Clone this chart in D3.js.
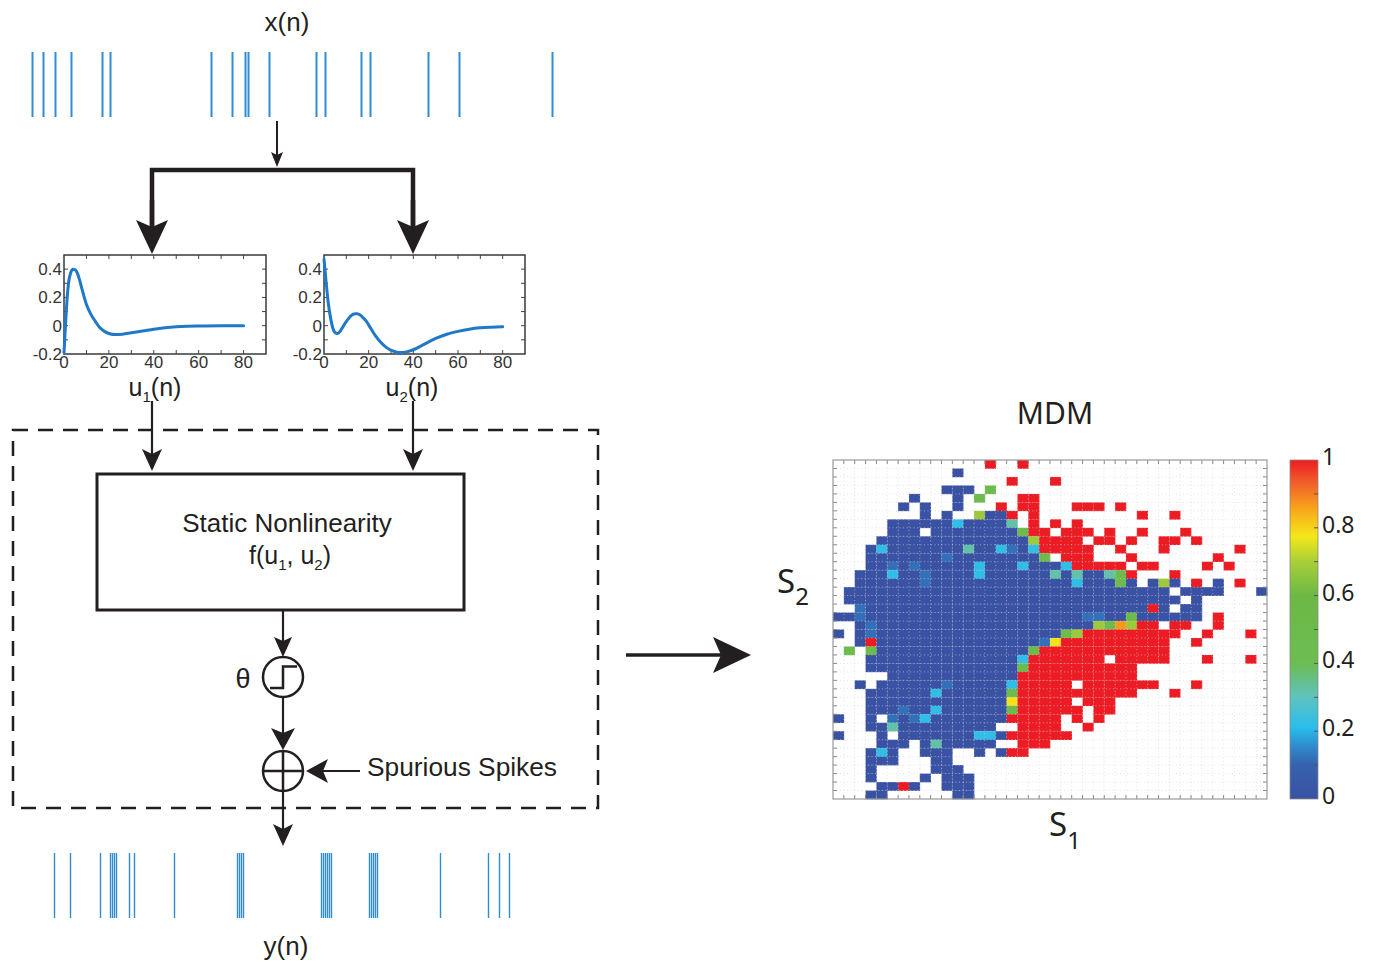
<!DOCTYPE html>
<html><head><meta charset="utf-8">
<script src="https://cdn.jsdelivr.net/npm/d3@7"></script>
<style>body{margin:0;background:#fff}svg{display:block}</style>
</head><body>
<svg id="chart" width="1373" height="964"></svg>
<script>
// ---- data ----
// spike times (sample index) of the input train x(n) and output train y(n)
const inputSpikes = [12, 23, 35, 51, 82, 90, 191, 212, 225, 228, 249, 296, 305, 341, 350, 408, 439, 532];
const outputSpikes = [34, 50, 80, 90, 92, 94, 96, 109, 114, 154, 217, 219, 221, 223,
  301, 303, 305, 307, 309, 311, 349, 351, 353, 355, 357, 420, 468, 479, 489];

// principal dynamic modes (kernel value vs lag)
const u1Lag = [0, 1, 2, 3, 4, 5, 6, 7, 8, 10, 12, 14, 16, 18, 20, 23, 26, 30, 35, 40, 45, 50, 55, 60, 70, 80];
const u1Val = [-0.19, 0.1, 0.3, 0.375, 0.4, 0.395, 0.37, 0.32, 0.26, 0.15, 0.08, 0.03, -0.015, -0.04, -0.055, -0.063, -0.06, -0.05, -0.038, -0.025, -0.015, -0.008, -0.004, -0.002, 0, 0];
const u2Lag = [0, 1, 2, 3, 4, 5, 6, 7, 8, 10, 12, 14, 15, 17, 19, 21, 23, 25, 28, 31, 34, 37, 40, 45, 50, 55, 60, 65, 70, 75, 80];
const u2Val = [0.47, 0.3, 0.15, 0.05, -0.02, -0.05, -0.055, -0.045, -0.02, 0.03, 0.07, 0.085, 0.085, 0.065, 0.03, -0.02, -0.07, -0.11, -0.155, -0.18, -0.19, -0.185, -0.17, -0.13, -0.09, -0.06, -0.04, -0.025, -0.015, -0.01, -0.007];
const kernelXTicks = [0, 20, 40, 60, 80];
const kernelYTicks = [-0.2, 0, 0.2, 0.4];

// MDM heat map: 40 x 40 bins, one string per row (top row first).
// tokens "col" or "from-to" followed by a level code; empty bins are omitted
const mdmLevels = {b: 0.0, m: 0.12, c: 0.22, t: 0.32, g: 0.5, y: 0.68, Y: 0.78, o: 0.87, r: 1.0};
const mdmRows = [
  "14r 17r",
  "11b",
  "16r 20r",
  "10-12b 14g",
  "7b 11b 13g 17-18r",
  "6b 8b 11b 15r 17-18r 22-24r 26r",
  "8b 10b 13y 14-15b 16r 18r 28r 31r",
  "5-10b 11c 12-15b 16t 18r 20r 22r",
  "5-7b 9-16b 17g 18-19r 21-23r 25r 28r 32r",
  "4-17b 18y 19-22r 24-25r 27r 30-31r 33r",
  "3b 4c 5-11b 12t 13-14b 15c 16m 17b 18c 19-23r 26r 30r 37r",
  "3-9b 10m 11-18b 19g 21-23r 27r 35r",
  "3-4b 5m 6b 7m 8-12b 13c 14-16b 17c 18-20b 21c 22-26r 28-29r 34r 36r",
  "2-4b 5c 6-7b 8m 9-12b 13c 14-19b 20t 21b 22t 23-24b 25t 26g 27r 31r",
  "2-7b 8m 9-21b 22c 23-25b 26g 27b 29b 30y 31b 33r 35b 37r",
  "1-30b 32-35b 39b",
  "1-31b 33b",
  "2m 3-28b 29r 30b 32-33b",
  "0-1b 2m 3-22b 23-24m 25-26b 27g 28-33b 35r",
  "2b 3m 4-23b 24y 25g 26o 27y 28-29r 31-32r 35r",
  "0b 2b 3m 4-20b 21g 22y 23-31r 34r 38r",
  "2b 3r 4-18b 19m 20Y 21-30r 33r",
  "1g 3g 4-17b 18g 19-30r",
  "3-16b 17c 18-24r 26-30r 34r 38r",
  "3-16b 17g 18-27r",
  "5-16b 17-27r",
  "2b 4-9b 10m 11-15b 16c 17-21r 23-29r 33r",
  "3-8b 9c 10-15b 16g 17-27r 31r",
  "3-15b 16Y 17-21r 23-25r",
  "3-5b 6m 7-8b 9c 10-15b 16g 17-22r 24-25r",
  "0b 3b 5m 6b 7m 8c 9-15b 16-20r 22r 24r",
  "3-4b 5t 6-14b 17-20r 23r",
  "0b 4b 6-12b 13-14c 15b 16-21r",
  "4-6b 8b 9t 10-14b 17-19r",
  "3b 4c 5b 8-10b 13b 15b 16-17r",
  "3-5b 9-10b",
  "3b 9-11b",
  "3b 8b 10-12b",
  "4-5b 6r 7b 10-12b",
  "3-4b 11-12b"
];
const colorbarTicks = [0, 0.2, 0.4, 0.6, 0.8, 1];
const cmapStops = [0, 0.1, 0.15, 0.21, 0.3, 0.4, 0.6, 0.7, 0.775, 0.86, 0.93, 1];
const cmapColors = ["#3a52a3", "#3662ae", "#2f86c9", "#2abdec", "#5ec3bf", "#6cbd52", "#6cb845",
  "#a8cf38", "#f4e71a", "#f8a21b", "#f1612a", "#ec1c24"];

// ---- drawing ----
const svg = d3.select("#chart");
const ink = "#231f20";
const sans = "'Liberation Sans', Arial, Helvetica, sans-serif";
const humanist = "'Noto Sans', 'Open Sans', sans-serif";
const spikeBlue = "#2f8cd3";

// spike trains
const tScale = d3.scaleLinear().domain([0, 550]).range([20, 570]);
function spikeTrain(times, y0, y1, w) {
  svg.append("g").selectAll("line").data(times).join("line")
    .attr("x1", d => tScale(d) + 0.5).attr("x2", d => tScale(d) + 0.5)
    .attr("y1", y0).attr("y2", y1)
    .attr("stroke", spikeBlue).attr("stroke-width", w);
}
spikeTrain(inputSpikes, 52, 117, 2);
spikeTrain(outputSpikes, 853, 918, 1.4);

svg.append("text").attr("x", 287).attr("y", 31).attr("text-anchor", "middle")
  .attr("font-family", sans).attr("font-size", 26).attr("fill", ink).text("x(n)");
svg.append("text").attr("x", 286).attr("y", 955).attr("text-anchor", "middle")
  .attr("font-family", sans).attr("font-size", 26).attr("fill", ink).text("y(n)");

// arrows: shaft plus notched head
function arrow(x1, y1, x2, y2, opt) {
  const o = Object.assign({w: 2.2, len: 22, half: 10, notch: 5}, opt || {});
  const dx = x2 - x1, dy = y2 - y1, L = Math.hypot(dx, dy);
  const ux = dx / L, uy = dy / L, px = -uy, py = ux;
  const bx = x2 - ux * o.len, by = y2 - uy * o.len;
  const nx = x2 - ux * (o.len - o.notch), ny = y2 - uy * (o.len - o.notch);
  svg.append("line").attr("x1", x1).attr("y1", y1).attr("x2", nx).attr("y2", ny)
    .attr("stroke", ink).attr("stroke-width", o.w);
  svg.append("path")
    .attr("d", `M${x2},${y2}L${bx + px * o.half},${by + py * o.half}L${nx},${ny}L${bx - px * o.half},${by - py * o.half}Z`)
    .attr("fill", ink);
}

arrow(277, 121, 277, 167, {w: 2, len: 15, half: 6, notch: 3});
svg.append("path").attr("d", "M152,232V170H413V232").attr("fill", "none")
  .attr("stroke", ink).attr("stroke-width", 4.5).attr("stroke-linejoin", "miter");
arrow(152, 200, 152, 254, {w: 4.5, len: 34, half: 16, notch: 7});
arrow(413, 200, 413, 254, {w: 4.5, len: 34, half: 16, notch: 7});

// kernel plots
const kx = d3.scaleLinear().domain([0, 90]);
const ky = d3.scaleLinear().domain([-0.2, 0.5]);
function kernelPlot(left, right, lags, vals, sub, labelX) {
  const top = 255, bottom = 354;
  const x = kx.copy().range([left, right]);
  const y = ky.copy().range([bottom, top]);
  const g = svg.append("g");
  // inward minor ticks on all four sides
  const xt = d3.range(10, 90, 10), yt = d3.range(-0.1, 0.5, 0.1);
  xt.forEach(t => {
    g.append("line").attr("x1", x(t)).attr("x2", x(t)).attr("y1", bottom).attr("y2", bottom - 4).attr("stroke", "#444");
    g.append("line").attr("x1", x(t)).attr("x2", x(t)).attr("y1", top).attr("y2", top + 4).attr("stroke", "#444");
  });
  yt.forEach(t => {
    g.append("line").attr("x1", left).attr("x2", left + 4).attr("y1", y(t)).attr("y2", y(t)).attr("stroke", "#444");
    g.append("line").attr("x1", right).attr("x2", right - 4).attr("y1", y(t)).attr("y2", y(t)).attr("stroke", "#444");
  });
  g.append("rect").attr("x", left).attr("y", top).attr("width", right - left).attr("height", bottom - top)
    .attr("fill", "none").attr("stroke", "#3a3a3a").attr("stroke-width", 1.5);
  const line = d3.line().x((d, i) => x(lags[i])).y(d => y(d)).curve(d3.curveMonotoneX);
  g.append("path").attr("d", line(vals)).attr("fill", "none")
    .attr("stroke", "#1f78c8").attr("stroke-width", 3).attr("stroke-linecap", "round");
  g.selectAll(".xl").data(kernelXTicks).join("text")
    .attr("x", d => x(d)).attr("y", 368).attr("text-anchor", "middle")
    .attr("font-family", sans).attr("font-size", 17).attr("fill", "#333").text(d => d);
  g.selectAll(".yl").data(kernelYTicks).join("text")
    .attr("x", left - 2).attr("y", d => y(d) + 6).attr("text-anchor", "end")
    .attr("font-family", sans).attr("font-size", 17).attr("fill", "#333").text(d => d);
  const lab = g.append("text").attr("x", labelX).attr("y", 396).attr("text-anchor", "middle")
    .attr("font-family", sans).attr("font-size", 25).attr("fill", ink);
  lab.append("tspan").text("u");
  lab.append("tspan").attr("font-size", 15).attr("dy", 6).text(sub);
  lab.append("tspan").attr("dy", -6).text("(n)");
}
kernelPlot(64, 266, u1Lag, u1Val, "1", 155);
kernelPlot(324, 525, u2Lag, u2Val, "2", 412);

arrow(152, 401, 152, 471, {len: 22, half: 10, notch: 5});
arrow(413, 401, 413, 471, {len: 22, half: 10, notch: 5});

// dashed frame around the nonlinear block
svg.append("rect").attr("x", 13).attr("y", 430).attr("width", 585).attr("height", 378)
  .attr("fill", "none").attr("stroke", ink).attr("stroke-width", 2.5).attr("stroke-dasharray", "15 10");

svg.append("rect").attr("x", 97).attr("y", 474).attr("width", 367).attr("height", 136)
  .attr("fill", "#fff").attr("stroke", ink).attr("stroke-width", 3);
svg.append("text").attr("x", 287).attr("y", 532).attr("text-anchor", "middle")
  .attr("font-family", sans).attr("font-size", 26).attr("fill", ink).text("Static Nonlinearity");
const fl = svg.append("text").attr("x", 290).attr("y", 564).attr("text-anchor", "middle")
  .attr("font-family", sans).attr("font-size", 25).attr("fill", ink);
fl.append("tspan").text("f(u");
fl.append("tspan").attr("font-size", 15).attr("dy", 6).text("1");
fl.append("tspan").attr("dy", -6).text(", u");
fl.append("tspan").attr("font-size", 15).attr("dy", 6).text("2");
fl.append("tspan").attr("dy", -6).text(")");

// threshold element
arrow(283, 611, 283, 657, {len: 20, half: 9, notch: 4});
svg.append("circle").attr("cx", 283).attr("cy", 677).attr("r", 20)
  .attr("fill", "none").attr("stroke", ink).attr("stroke-width", 2.5);
svg.append("path").attr("d", "M270,688H283V666.5H297").attr("fill", "none")
  .attr("stroke", ink).attr("stroke-width", 2.5);
svg.append("text").attr("x", 243).attr("y", 688).attr("text-anchor", "middle")
  .attr("font-family", sans).attr("font-size", 27).attr("fill", ink).text("θ");

// summing junction with spurious spikes
arrow(283, 697, 283, 750, {len: 22, half: 12, notch: 5});
svg.append("circle").attr("cx", 283).attr("cy", 771).attr("r", 20)
  .attr("fill", "none").attr("stroke", ink).attr("stroke-width", 2.5);
svg.append("path").attr("d", "M263,771H303M283,751V791").attr("stroke", ink).attr("stroke-width", 2.5);
arrow(360, 771, 306, 771, {len: 22, half: 12, notch: 5});
svg.append("text").attr("x", 367).attr("y", 776).attr("font-family", sans)
  .attr("font-size", 26.3).attr("fill", ink).text("Spurious Spikes");
arrow(283, 791, 283, 846, {len: 22, half: 10, notch: 5});

// big arrow to the MDM map
arrow(626, 655, 751, 655, {w: 3.5, len: 38, half: 18, notch: 8});

// ---- MDM heat map ----
const hx = d3.scaleLinear().domain([0, 40]).range([833, 1267]);
const hy = d3.scaleLinear().domain([0, 40]).range([460, 799]);
const cmap = d3.scaleLinear().domain(cmapStops).range(cmapColors).interpolate(d3.interpolateRgb);

const cells = [];
mdmRows.forEach((row, r) => {
  row.split(/\s+/).filter(Boolean).forEach(tok => {
    const m = tok.match(/^(\d+)(?:-(\d+))?([a-zA-Z])$/);
    const a = +m[1], b = m[2] !== undefined ? +m[2] : a;
    for (let c = a; c <= b; c++) cells.push({r, c, v: mdmLevels[m[3]]});
  });
});

const hm = svg.append("g");
hm.selectAll("rect.cell").data(cells).join("rect").attr("class", "cell")
  .attr("x", d => hx(d.c)).attr("y", d => hy(d.r))
  .attr("width", hx(1) - hx(0) + 0.3).attr("height", hy(1) - hy(0) + 0.3)
  .attr("fill", d => cmap(d.v));

// faint dotted bin grid
const gridIdx = d3.range(1, 40);
hm.selectAll("line.gv").data(gridIdx).join("line").attr("class", "gv")
  .attr("x1", d => hx(d)).attr("x2", d => hx(d)).attr("y1", hy(0)).attr("y2", hy(40))
  .attr("stroke", "#d6d6d6").attr("stroke-width", 0.8).attr("stroke-dasharray", "1 2.5").attr("opacity", 0.75);
hm.selectAll("line.gh").data(gridIdx).join("line").attr("class", "gh")
  .attr("x1", hx(0)).attr("x2", hx(40)).attr("y1", d => hy(d)).attr("y2", d => hy(d))
  .attr("stroke", "#d6d6d6").attr("stroke-width", 0.8).attr("stroke-dasharray", "1 2.5").attr("opacity", 0.75);

// inward ticks on all four sides
const tickIdx = d3.range(1, 40);
const tk = hm.append("g").attr("stroke", "#8a8a8a").attr("stroke-width", 1);
tickIdx.forEach(i => {
  tk.append("line").attr("x1", hx(i)).attr("x2", hx(i)).attr("y1", hy(0)).attr("y2", hy(0) + 4);
  tk.append("line").attr("x1", hx(i)).attr("x2", hx(i)).attr("y1", hy(40)).attr("y2", hy(40) - 4);
  tk.append("line").attr("x1", hx(0)).attr("x2", hx(0) + 4).attr("y1", hy(i)).attr("y2", hy(i));
  tk.append("line").attr("x1", hx(40)).attr("x2", hx(40) - 4).attr("y1", hy(i)).attr("y2", hy(i));
});
hm.append("rect").attr("x", hx(0)).attr("y", hy(0)).attr("width", hx(40) - hx(0)).attr("height", hy(40) - hy(0))
  .attr("fill", "none").attr("stroke", "#9a9a9a").attr("stroke-width", 1.2);

svg.append("text").attr("x", 1055).attr("y", 424).attr("text-anchor", "middle")
  .attr("font-family", humanist).attr("font-size", 30).attr("fill", ink).text("MDM");
const s2 = svg.append("text").attr("x", 777).attr("y", 593).attr("font-family", humanist)
  .attr("font-size", 33).attr("fill", ink);
s2.append("tspan").text("S");
s2.append("tspan").attr("font-size", 24).attr("dy", 12).text("2");
const s1 = svg.append("text").attr("x", 1049).attr("y", 836).attr("font-family", humanist)
  .attr("font-size", 33).attr("fill", ink);
s1.append("tspan").text("S");
s1.append("tspan").attr("font-size", 24).attr("dy", 13).text("1");

// colour bar
const cbY = d3.scaleLinear().domain([0, 1]).range([799, 460]);
const defs = svg.append("defs");
const grad = defs.append("linearGradient").attr("id", "cbgrad")
  .attr("x1", 0).attr("y1", 1).attr("x2", 0).attr("y2", 0);
cmapStops.forEach((s, i) => grad.append("stop").attr("offset", s).attr("stop-color", cmapColors[i]));
svg.append("rect").attr("x", 1290).attr("y", cbY(1)).attr("width", 28).attr("height", cbY(0) - cbY(1))
  .attr("fill", "url(#cbgrad)").attr("stroke", "#8a8a8a").attr("stroke-width", 0.8);
d3.range(0.1, 1, 0.1).forEach(t => {
  svg.append("line").attr("x1", 1318).attr("x2", 1314).attr("y1", cbY(t)).attr("y2", cbY(t))
    .attr("stroke", "#555").attr("stroke-width", 1);
});
svg.append("g").selectAll("text").data(colorbarTicks).join("text")
  .attr("x", 1322).attr("y", d => cbY(d) + 5).attr("font-family", humanist)
  .attr("font-size", 23).attr("fill", ink).text(d => d);
</script>
</body></html>
